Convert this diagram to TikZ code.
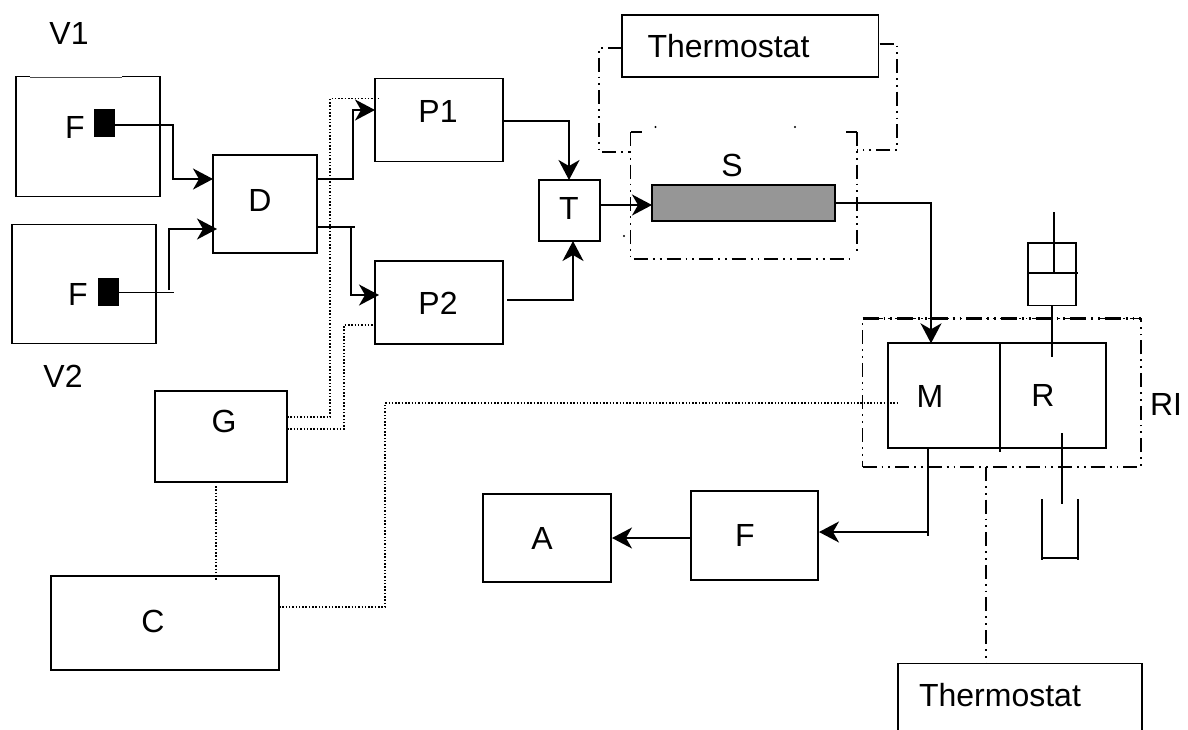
\documentclass[tikz,border=0pt]{standalone}
\usepackage{fontspec}
\setmainfont{Liberation Sans}
\usetikzlibrary{arrows.meta,calc}
\tikzset{
  box/.style={draw=black,line width=1.9,fill=none,inner sep=0,outer sep=0,minimum width=#1},
  txt/.style={inner sep=0,outer sep=0,font=\fontsize{32}{36}\selectfont},
  flow/.style={draw=black,line width=1.8,-{Stealth[length=20pt,width=21pt,inset=6pt]}},
  plain/.style={draw=black,line width=1.8},
  ctrl/.style={draw=black,line width=1.5,dash pattern=on 1.5 off 1.8},
  therm/.style={draw=black,line width=1.5,dash pattern=on 14 off 5 on 1.8 off 5 on 1.8 off 5},
}
\begin{document}
\begin{tikzpicture}[x=1pt,y=-1pt]
\useasboundingbox (0,0) rectangle (1188,729);
\clip (0,0) rectangle (1188,729);
% vessels
\node[box=144,minimum height=120,anchor=north west] (v1) at (16,76.5) {};
\draw[white,line width=2.6] (30,76.5) -- (122,76.5);
\draw[black!70,line width=0.9] (30,77) -- (122,77);
\node[box=144,minimum height=119,anchor=north west] (v2) at (12,224.5) {};
\node[box=19,minimum height=27,anchor=north west,fill=black] (f1) at (95,109.5) {};
\node[box=19,minimum height=27,anchor=north west,fill=black] (f2) at (99,278.5) {};
% boxes
\node[box=104,minimum height=98,anchor=north west] (d) at (213,155) {};
\node[box=128,minimum height=83,anchor=north west] (p1) at (375,78.5) {};
\node[box=128,minimum height=83,anchor=north west] (p2) at (375,261) {};
\node[box=61,minimum height=61,anchor=north west] (t) at (539,180) {};
\node[box=256.5,minimum height=62,anchor=north west] (th1) at (622,15) {};
\node[box=183,minimum height=36,anchor=north west,fill=black!41] (s) at (652,185) {};
\node[box=218,minimum height=104.5,anchor=north west] (mr) at (888,343.3) {};
\node[box=48,minimum height=62.5,anchor=north west] (cyl) at (1028,243) {};
\node[box=127,minimum height=89,anchor=north west] (fb) at (691,491) {};
\node[box=128,minimum height=88,anchor=north west] (a) at (483,494) {};
\node[box=132,minimum height=91,anchor=north west] (g) at (155,391) {};
\node[box=228,minimum height=94,anchor=north west] (c) at (51,576) {};
\node[box=244,minimum height=90,anchor=north west] (th2) at (898,663.5) {};
% S enclosure
\coordinate (senc) at (630.5,132);
\draw[therm,line width=1.7,dash pattern=on 11 off 100] (630.5,132) -- (642,132);
\draw[therm,line width=1.7,dash pattern=on 11 off 100] (857,132) -- (846,132);
\fill[black] (655.5,127) circle (1.1) (795,127) circle (1.1) (624,236) circle (1.1);
\draw[therm,line width=1.1] (630.5,132) -- (630.5,259) -- (849,259);
\draw[therm] (857,132) -- (857,251);
% RI enclosure
\node[therm,inner sep=0,outer sep=0,minimum width=278.5,minimum height=148.5,anchor=north west] (ri) at (862.5,318.5) {};
\draw[line width=2.8,dash pattern=on 16 off 5 on 1.8 off 5 on 1.8 off 5] (ri.north west) -- (ri.north east);
% texts
\node[txt] (lv1) at (69,33) {V1};
\node[txt] (lv2) at (63,376) {V2};
\node[txt] (lf1) at (75,127) {F};
\node[txt] (lf2) at (78,294) {F};
\node[txt] (ld) at (260,200) {D};
\node[txt] (lp1) at (438,111) {P1};
\node[txt] (lp2) at (438,303) {P2};
\node[txt] (lt) at (569,208) {T};
\node[txt] (ls) at (732,165) {S};
\node[txt] (lth1) at (728.5,46) {Thermostat};
\node[txt] (lm) at (930,396) {M};
\node[txt] (lr) at (1043,395) {R};
\node[txt] (lri) at (1166,404) {RI};
\node[txt] (la) at (542,538) {A};
\node[txt] (lfb) at (745,535) {F};
\node[txt] (lg) at (224,421) {G};
\node[txt] (lc) at (153,621) {C};
\node[txt] (lth2) at (1000,695) {Thermostat};
% flow connectors
\draw[flow] ([yshift=-2]f1.east) -| ++(59,54) -- ([yshift=25]d.west);
\draw[plain] ([yshift=-0.5]f2.east) -- ++(55.5,0);
\draw[flow] (169,290) |- ([yshift=-25,xshift=4]d.west);
\draw[flow] ([yshift=25]d.east) -| ++(36,-69) -- ([yshift=10]p1.west);
\draw[plain] ([yshift=-23,xshift=1]d.east) -- ++(37,0);
\draw[flow] ([yshift=-23,xshift=34]d.east) |- ([yshift=7.5,xshift=4]p2.west);
\draw[flow] ([yshift=-1]p1.east) -| ([xshift=-0.5]t.north);
\draw[flow] ([yshift=2.5,xshift=4]p2.east) -| ([xshift=3.5]t.south);
\draw[flow] ([yshift=5.5]t.east) -- ([yshift=-2]s.west);
\draw[flow] (s.east) -| ([xshift=-66]mr.north);
\draw[plain] ([xshift=-69]mr.south) -- (928,536);
\draw[flow] (928,532) -- ([yshift=3.5,xshift=1]fb.east);
\draw[flow] ([yshift=-2.5]fb.west) -- ([xshift=1]a.east);
% reservoir and cylinder
\draw[plain] (1000,343.3) -- (1000,452);
\draw[plain] (1054,212) -- (1054,273);
\draw[plain] (1028,273) -- (1078,273);
\draw[plain] (cyl.south) -- (1052,357);
\draw[plain] (1062,433) -- (1062,504);
\draw[plain] (1042,499) -- (1042,560);
\draw[plain] (1078,499) -- (1078,560);
\draw[plain] (1042,558) -- (1078,558);
% control
\draw[ctrl] ([yshift=19.5]g.east) -- (330,417) -- (330,98.5) -- ([xshift=3,yshift=21.5]p1.west);
\draw[ctrl] ([yshift=7.5]g.east) -- (344,429) -- (344,325) -- ([yshift=-22.5]p2.west);
\draw[ctrl] (216,486) -- (216,580);
\draw[ctrl] ([yshift=16]c.east) -- (385,607) -- (385,403) -- (898,403);
% thermostat lines
\draw[therm] ([yshift=-2]th1.west) -- (599,48) -- (599,152) -- (631,152);
\draw[therm] ([xshift=1,yshift=2]th1.east) -- (897,44) -- (897,150) -- (857,150);
\draw[therm] (986,467) -- (986,663);
\end{tikzpicture}
\end{document}
